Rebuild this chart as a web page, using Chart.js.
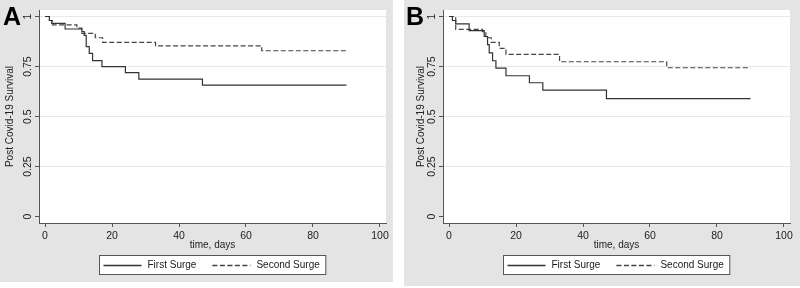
<!DOCTYPE html>
<html>
<head>
<meta charset="utf-8">
<script src="https://cdn.jsdelivr.net/npm/chart.js@4.4.1/dist/chart.umd.min.js"></script>
<style>
  html, body { margin: 0; padding: 0; background: #fff; }
  body { width: 800px; height: 288px; position: relative; overflow: hidden; }
  canvas { position: absolute; top: 0; }
</style>
</head>
<body>
<canvas id="panelA" width="393" height="282" style="left:0px"></canvas>
<canvas id="panelB" width="396" height="286" style="left:404px"></canvas>
<script>
var FONT = "'Liberation Sans', Arial, sans-serif";

var xTicks = [0, 20, 40, 60, 80, 100];
var yTicks = [0, 0.25, 0.5, 0.75, 1];
var yTickLabels = ['0', '0.25', '0.5', '0.75', '1'];
var seriesLabels = ['First Surge', 'Second Surge'];

// panel A
var firstA_days = [0, 1.3, 2, 6, 11, 11.7, 12.3, 13.2, 14.2, 17, 24, 28, 47, 90];
var firstA_surv = [1, 0.98, 0.966, 0.9375, 0.925, 0.906, 0.85, 0.816, 0.78, 0.75, 0.72, 0.6875, 0.657, 0.657];
var secondA_days = [0, 1.3, 2.2, 9.5, 11, 15, 17.2, 33, 64.7, 90];
var secondA_surv = [1, 0.98, 0.958, 0.942, 0.916, 0.894, 0.871, 0.853, 0.829, 0.829];

// panel B
var firstB_days = [0, 1, 2, 6, 10.5, 11.5, 12, 13, 14, 17, 24, 28, 47, 90];
var firstB_surv = [1, 0.98, 0.963, 0.929, 0.9, 0.86, 0.818, 0.779, 0.742, 0.704, 0.669, 0.632, 0.59, 0.59];
var secondB_days = [0, 2, 10, 11, 12.6, 15, 17, 33, 65, 90];
var secondB_surv = [1, 0.936, 0.924, 0.894, 0.871, 0.841, 0.811, 0.774, 0.744, 0.744];

Chart.defaults.font.family = FONT;
Chart.defaults.color = '#222';

function toPoints(days, surv) {
  return days.map(function (d, i) { return { x: d, y: surv[i] }; });
}

var panelDecor = {
  id: 'panelDecor',
  beforeDraw: function (chart, args, opts) {
    var ctx = chart.ctx, a = chart.chartArea;
    ctx.save();
    ctx.fillStyle = '#e4e4e4';
    ctx.fillRect(0, 0, chart.width, chart.height);
    ctx.fillStyle = '#fff';
    ctx.fillRect(a.left, a.top, a.right - a.left, a.bottom - a.top);
    ctx.restore();
  },
  afterDraw: function (chart, args, opts) {
    var ctx = chart.ctx, a = chart.chartArea, ys = chart.scales.y;
    ctx.save();
    // panel letter
    ctx.fillStyle = '#000';
    ctx.font = 'bold 25px ' + FONT;
    ctx.textAlign = 'left';
    ctx.textBaseline = 'alphabetic';
    ctx.fillText(opts.letter, opts.letterX, 25);

    // rotated y tick labels (Stata style)
    ctx.font = '10.5px ' + FONT;
    ctx.fillStyle = '#222';
    ctx.textAlign = 'center';
    ctx.textBaseline = 'middle';
    yTicks.forEach(function (v, i) {
      ctx.save();
      ctx.translate(opts.tickLabelX, ys.getPixelForValue(v));
      ctx.rotate(-Math.PI / 2);
      ctx.fillText(yTickLabels[i], 0, 0);
      ctx.restore();
    });

    // legend box
    ctx.font = '10px ' + FONT;
    var sample = 38, gap = 6, itemGap = 16, padL = 4, padR = 6, boxH = 19;
    var sets = chart.data.datasets;
    var w = padL + padR;
    sets.forEach(function (d, i) {
      w += sample + gap + ctx.measureText(d.label).width + (i < sets.length - 1 ? itemGap : 0);
    });
    var left = Math.round((a.left + a.right) / 2 - w / 2) + 0.5;
    var top = Math.round(a.bottom + 32) + 0.5;
    ctx.fillStyle = '#fff';
    ctx.fillRect(left, top, w, boxH);
    ctx.strokeStyle = '#555';
    ctx.lineWidth = 1;
    ctx.strokeRect(left, top, w, boxH);
    var px = left + padL, my = top + boxH / 2 + 0.5;
    sets.forEach(function (d) {
      ctx.beginPath();
      ctx.setLineDash(d.borderDash || []);
      ctx.strokeStyle = d.borderColor;
      ctx.lineWidth = 1.5;
      ctx.moveTo(px, my);
      ctx.lineTo(px + sample, my);
      ctx.stroke();
      ctx.setLineDash([]);
      px += sample + gap;
      ctx.fillStyle = '#1a1a1a';
      ctx.textAlign = 'left';
      ctx.textBaseline = 'middle';
      ctx.fillText(d.label, px, my);
      px += ctx.measureText(d.label).width + itemGap;
    });
    ctx.restore();
  }
};

function makePanel(id, p, firstDays, firstSurv, secondDays, secondSurv) {
  var canvas = document.getElementById(id);
  return new Chart(canvas, {
    type: 'line',
    data: {
      datasets: [
        {
          label: seriesLabels[0],
          data: toPoints(firstDays, firstSurv),
          stepped: 'before',
          borderColor: '#333',
          borderWidth: 1.2,
          pointRadius: 0
        },
        {
          label: seriesLabels[1],
          data: toPoints(secondDays, secondSurv),
          stepped: 'before',
          borderColor: '#444',
          borderWidth: 1.2,
          borderDash: [5, 2.5],
          pointRadius: 0
        }
      ]
    },
    options: {
      responsive: false,
      animation: false,
      events: [],
      layout: { padding: { left: 0, top: 10, right: canvas.width - 386, bottom: 0 } },
      plugins: {
        legend: { display: false },
        tooltip: { enabled: false },
        panelDecor: p
      },
      scales: {
        x: {
          type: 'linear',
          min: -1.8,
          max: 101.8,
          afterBuildTicks: function (s) { s.ticks = xTicks.map(function (v) { return { value: v }; }); },
          afterFit: function (s) { s.height = canvas.height - 223; },
          grid: { drawOnChartArea: false, drawTicks: true, tickLength: 4, tickColor: '#555' },
          border: { color: '#555', width: 1 },
          ticks: { color: '#222', font: { size: 10.5 }, padding: 3, maxRotation: 0, autoSkip: false },
          title: {
            display: true,
            text: 'time, days',
            color: '#222',
            font: { size: 10 },
            padding: { top: 0, bottom: p.xTitlePad }
          }
        },
        y: {
          type: 'linear',
          min: -0.0315,
          max: 1.0325,
          afterBuildTicks: function (s) { s.ticks = yTicks.map(function (v) { return { value: v }; }); },
          afterFit: function (s) { s.width = 39; },
          grid: {
            color: function (c) { return c.tick && c.tick.value === 0 ? 'rgba(0,0,0,0)' : '#e9e9e9'; },
            tickLength: 4,
            tickColor: '#555'
          },
          border: { color: '#555', width: 1 },
          ticks: { display: false },
          title: {
            display: true,
            text: 'Post Covid-19 Survival',
            color: '#222',
            font: { size: 10 },
            padding: { top: p.yTitlePad, bottom: 0 }
          }
        }
      }
    },
    plugins: [panelDecor]
  });
}

var chartA = makePanel('panelA', { letter: 'A', letterX: 3, tickLabelX: 28.3, yTitlePad: 4, xTitlePad: 31 },
  firstA_days, firstA_surv, secondA_days, secondA_surv);
var chartB = makePanel('panelB', { letter: 'B', letterX: 2, tickLabelX: 27.7, yTitlePad: 11, xTitlePad: 35 },
  firstB_days, firstB_surv, secondB_days, secondB_surv);
</script>
</body>
</html>
